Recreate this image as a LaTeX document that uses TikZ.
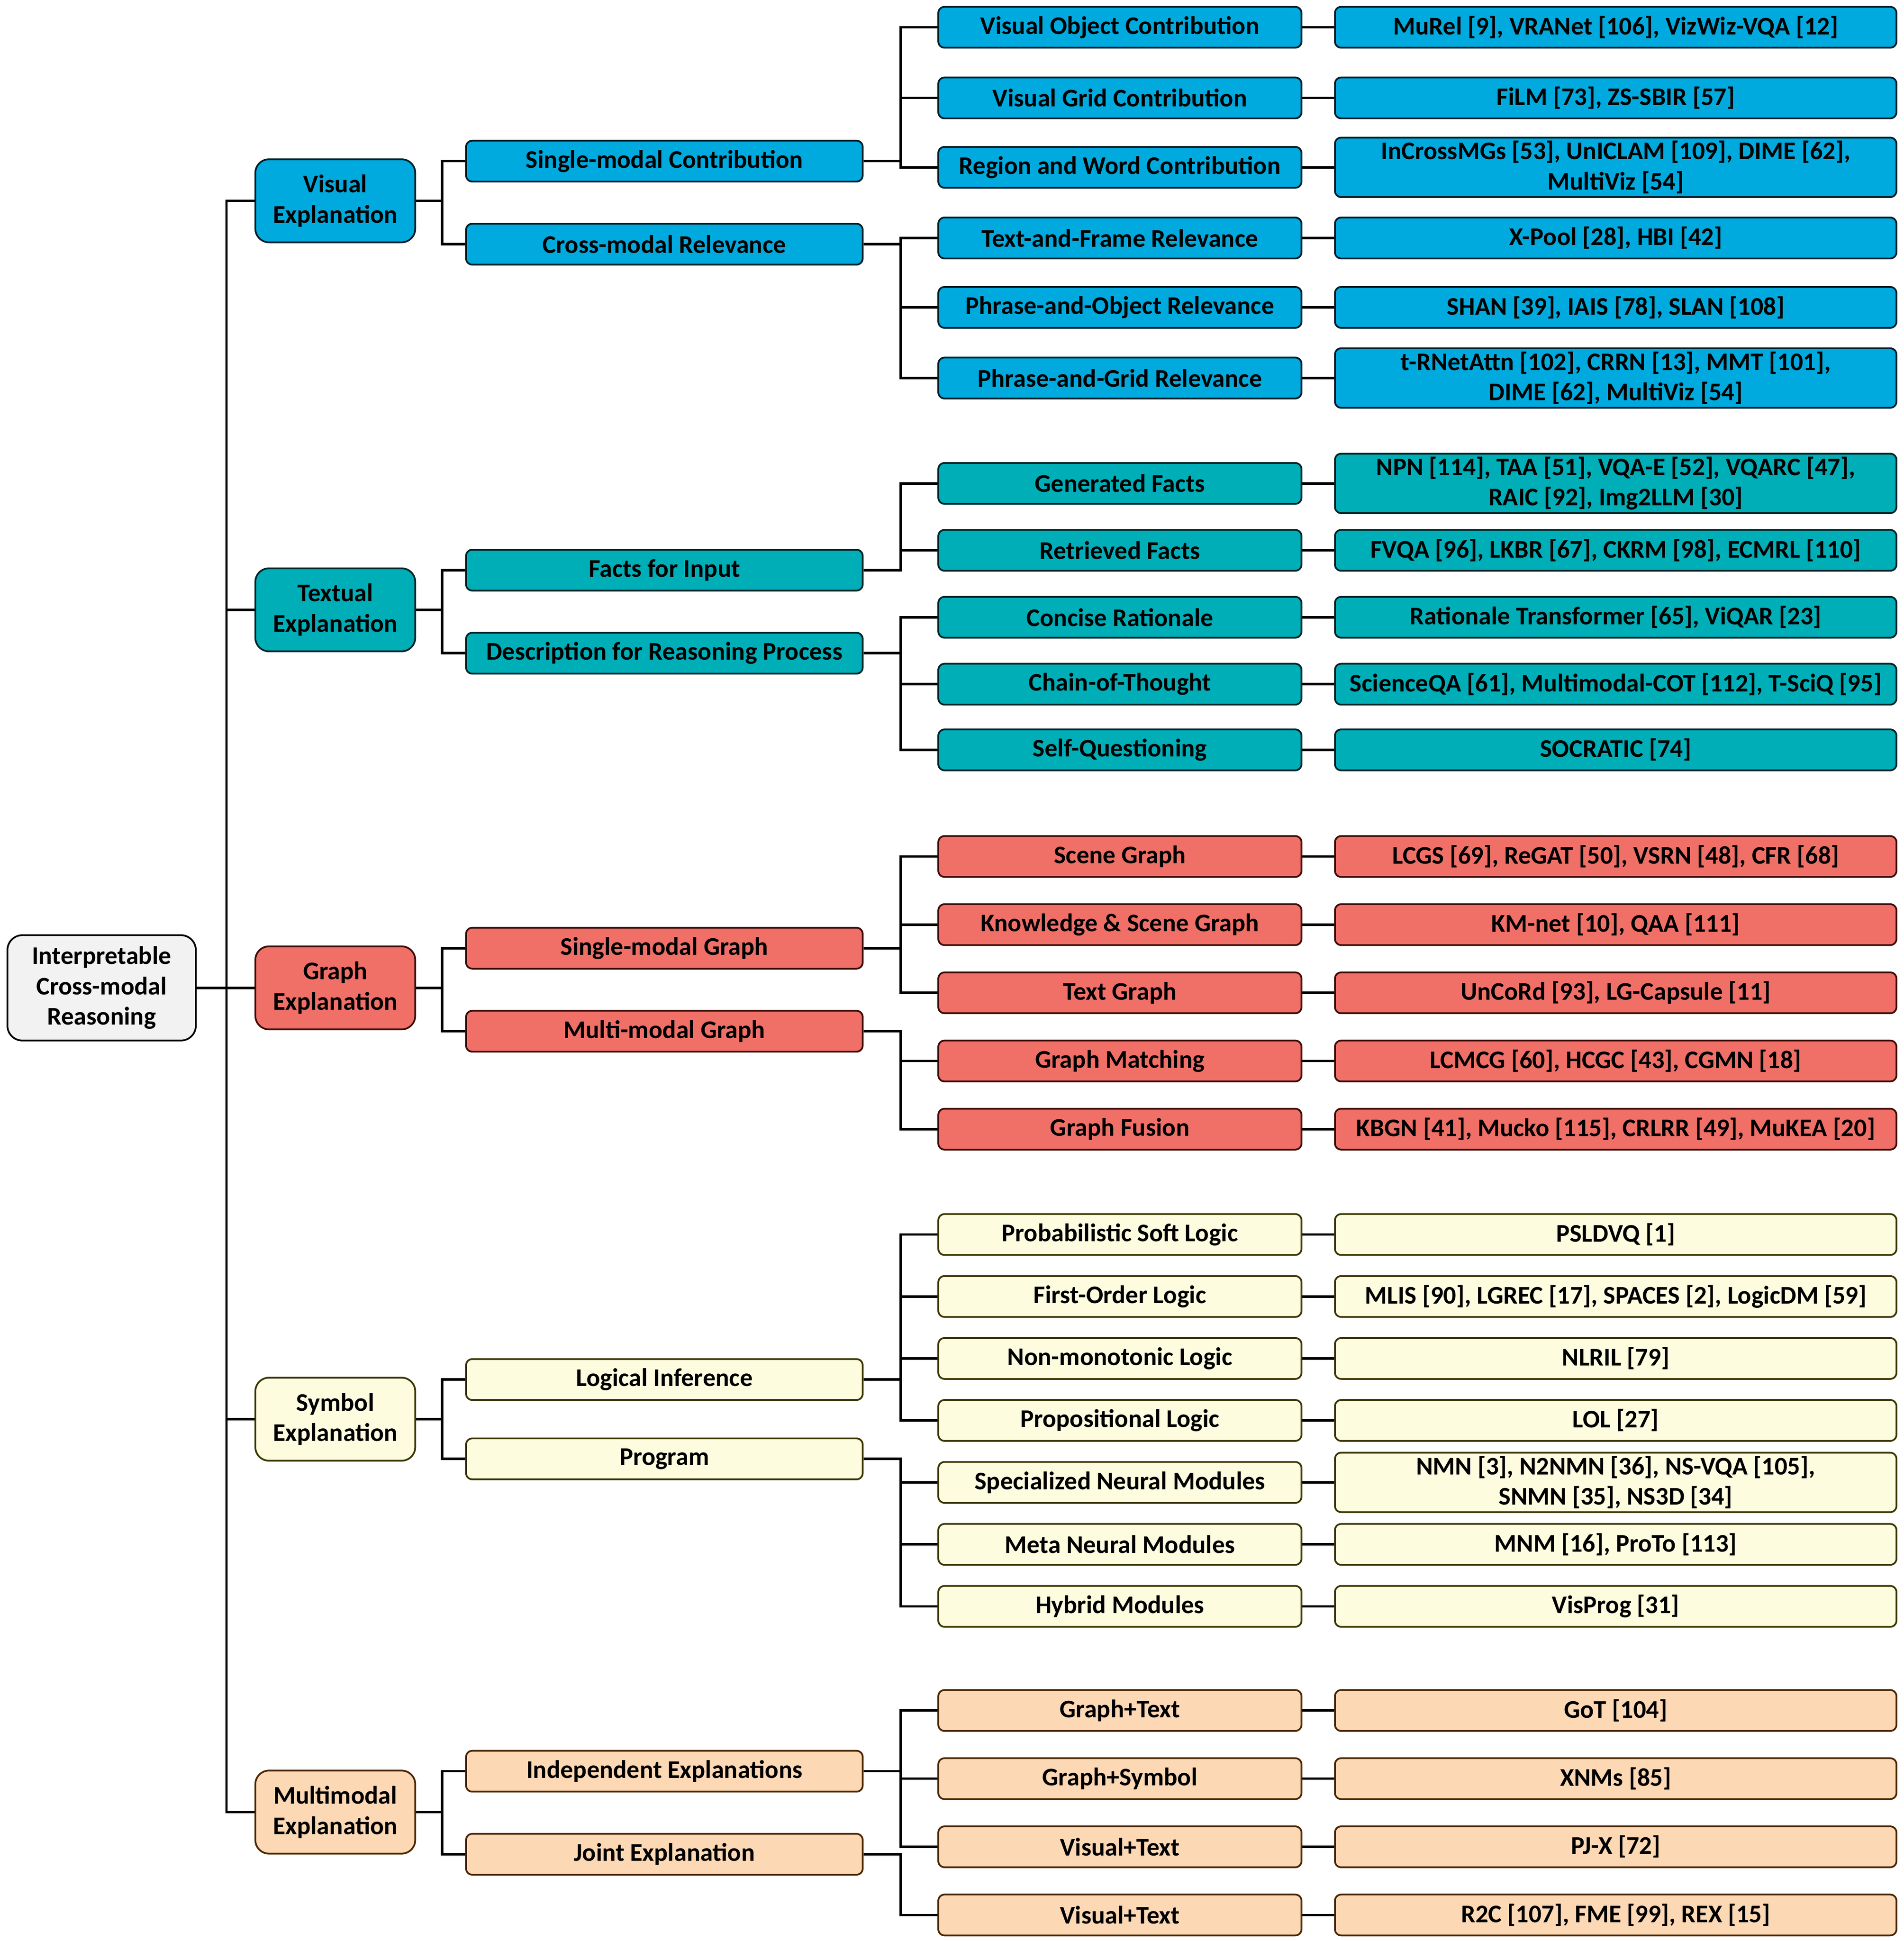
\documentclass[tikz,border=0pt]{standalone}
\usepackage{fontspec}
\setmainfont{Carlito}
\definecolor{vfill}{HTML}{00AADE}\definecolor{vdraw}{HTML}{001E28}
\definecolor{tfill}{HTML}{00AEB8}\definecolor{tdraw}{HTML}{002427}
\definecolor{gfill}{HTML}{F07068}\definecolor{gdraw}{HTML}{3C0C09}
\definecolor{sfill}{HTML}{FDFCDF}\definecolor{sdraw}{HTML}{3A3600}
\definecolor{mfill}{HTML}{FDD8B5}\definecolor{mdraw}{HTML}{4A2600}
\definecolor{rfill}{HTML}{F2F2F2}
\begin{document}
\begin{tikzpicture}[x=1pt,y=-1pt,
  every node/.style={inner sep=0pt, align=center, font=\fontsize{20.5}{24.5}\selectfont\bfseries, line width=1.4pt},
  rootbox/.style={draw=black, fill=rfill, rounded corners=12pt, minimum width=152pt, minimum height=85pt},
  lone/.style={draw, rounded corners=11pt, minimum width=129pt, minimum height=67pt},
  ltwo/.style={draw, rounded corners=5pt, minimum width=320pt, minimum height=33pt},
  lthree/.style={draw, rounded corners=5pt, minimum width=293pt, minimum height=33pt},
  lfour/.style={draw, rounded corners=5pt, minimum width=453pt, minimum height=33pt},
  lfourb/.style={lfour, minimum height=48pt},
  vis/.style={fill=vfill, draw=vdraw},
  txt/.style={fill=tfill, draw=tdraw},
  gra/.style={fill=gfill, draw=gdraw},
  sym/.style={fill=sfill, draw=sdraw},
  mul/.style={fill=mfill, draw=mdraw},
  conn/.style={draw=black, line width=2pt}]
\useasboundingbox (0,0) rectangle (1536,1566);
% root
\node[rootbox] (root) at (82,797) {Interpretable\\Cross-modal\\Reasoning};
% level 1
\node[lone,vis] (ve) at (270.5,162) {Visual\\Explanation};
\node[lone,txt] (te) at (270.5,492) {Textual\\Explanation};
\node[lone,gra] (ge) at (270.5,797) {Graph\\Explanation};
\node[lone,sym] (se) at (270.5,1145) {Symbol\\Explanation};
\node[lone,mul] (me) at (270.5,1462) {Multimodal\\Explanation};
% level 2
\node[ltwo,vis] (sc) at (536,130) {Single-modal Contribution};
\node[ltwo,vis] (cr) at (536,197) {Cross-modal Relevance};
\node[ltwo,txt] (fi) at (536,460) {Facts for Input};
\node[ltwo,txt] (dr) at (536,527) {Description for Reasoning Process};
\node[ltwo,gra] (sg) at (536,765) {Single-modal Graph};
\node[ltwo,gra] (mg) at (536,832) {Multi-modal Graph};
\node[ltwo,sym] (li) at (536,1113) {Logical Inference};
\node[ltwo,sym] (pr) at (536,1177) {Program};
\node[ltwo,mul] (ie) at (536,1429) {Independent Explanations};
\node[ltwo,mul] (je) at (536,1496) {Joint Explanation};
% level 3 and 4
\foreach \n/\y/\st/\a/\b/\w in {
  a1/22/vis/Visual Object Contribution/{MuRel [9], VRANet [106], VizWiz-VQA [12]}/lfour,
  a2/79/vis/Visual Grid Contribution/{FiLM [73], ZS-SBIR [57]}/lfour,
  a3/135/vis/Region and Word Contribution/{InCrossMGs [53], UnICLAM [109], DIME [62],\\MultiViz [54]}/lfourb,
  b1/192/vis/Text-and-Frame Relevance/{X-Pool [28], HBI [42]}/lfour,
  b2/248/vis/Phrase-and-Object Relevance/{SHAN [39], IAIS [78], SLAN [108]}/lfour,
  b3/305/vis/Phrase-and-Grid Relevance/{t-RNetAttn [102], CRRN [13], MMT [101],\\DIME [62], MultiViz [54]}/lfourb,
  c1/390/txt/Generated Facts/{NPN [114], TAA [51], VQA-E [52], VQARC [47],\\RAIC [92], Img2LLM [30]}/lfourb,
  c2/444/txt/Retrieved Facts/{FVQA [96], LKBR [67], CKRM [98], ECMRL [110]}/lfour,
  d1/498/txt/Concise Rationale/{Rationale Transformer [65], ViQAR [23]}/lfour,
  d2/552/txt/Chain-of-Thought/{ScienceQA [61], Multimodal-COT [112], T-SciQ [95]}/lfour,
  d3/605/txt/Self-Questioning/{SOCRATIC [74]}/lfour,
  e1/691/gra/Scene Graph/{LCGS [69], ReGAT [50], VSRN [48], CFR [68]}/lfour,
  e2/746/gra/Knowledge \& Scene Graph/{KM-net [10], QAA [111]}/lfour,
  e3/801/gra/Text Graph/{UnCoRd [93], LG-Capsule [11]}/lfour,
  f1/856/gra/Graph Matching/{LCMCG [60], HCGC [43], CGMN [18]}/lfour,
  f2/911/gra/Graph Fusion/{KBGN [41], Mucko [115], CRLRR [49], MuKEA [20]}/lfour,
  g1/996/sym/Probabilistic Soft Logic/{PSLDVQ [1]}/lfour,
  g2/1046/sym/First-Order Logic/{MLIS [90], LGREC [17], SPACES [2], LogicDM [59]}/lfour,
  g3/1096/sym/Non-monotonic Logic/{NLRIL [79]}/lfour,
  g4/1146/sym/Propositional Logic/{LOL [27]}/lfour,
  h1/1196/sym/Specialized Neural Modules/{NMN [3], N2NMN [36], NS-VQA [105],\\SNMN [35], NS3D [34]}/lfourb,
  h2/1246/sym/Meta Neural Modules/{MNM [16], ProTo [113]}/lfour,
  h3/1296/sym/Hybrid Modules/{VisProg [31]}/lfour,
  i1/1380/mul/Graph+Text/{GoT [104]}/lfour,
  i2/1435/mul/Graph+Symbol/{XNMs [85]}/lfour,
  i3/1490/mul/Visual+Text/{PJ-X [72]}/lfour,
  j1/1545/mul/Visual+Text/{R2C [107], FME [99], REX [15]}/lfour}{
  \node[lthree,\st] (\n) at (903.5,\y) {\a};
  \node[\w,\st] (\n r) at (1303.5,\y) {\b};
  \draw[conn] (\n.east) -- (\n r.west);
}
% root connectors
\draw[conn] (root.east) -- (ge.west);
\foreach \t in {ve,te,ge,se,me} \draw[conn] (root.east) -- ++(24,0) |- (\t.west);
% level1 -> level2
\foreach \p/\c in {ve/sc,ve/cr,te/fi,te/dr,ge/sg,ge/mg,se/li,se/pr,me/ie,me/je}
  \draw[conn] (\p.east) -- ++(21,0) |- (\c.west);
% level2 -> level3
\foreach \p/\c in {sc/a1,sc/a2,sc/a3,cr/b1,cr/b2,cr/b3,fi/c1,fi/c2,dr/d1,dr/d2,dr/d3,
  sg/e1,sg/e2,sg/e3,mg/f1,mg/f2,li/g1,li/g2,li/g3,li/g4,pr/h1,pr/h2,pr/h3,
  ie/i1,ie/i2,ie/i3,je/j1}
  \draw[conn] (\p.east) -- ++(30,0) |- (\c.west);
\end{tikzpicture}
\end{document}
